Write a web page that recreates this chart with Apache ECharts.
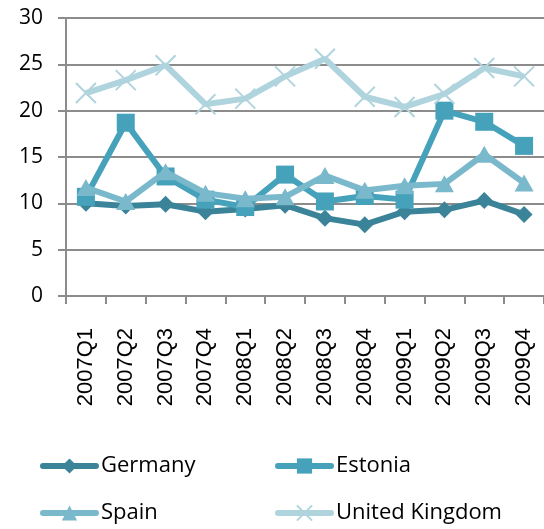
<!DOCTYPE html>
<html>
<head>
<meta charset="utf-8">
<script src="https://cdn.jsdelivr.net/npm/echarts@6/dist/echarts.min.js"></script>
<style>
html,body{margin:0;padding:0;background:#fff;}
#chart{width:544px;height:529px;}
</style>
</head>
<body>
<div id="chart"></div>
<script>
var categories = ['2007Q1','2007Q2','2007Q3','2007Q4','2008Q1','2008Q2','2008Q3','2008Q4','2009Q1','2009Q2','2009Q3','2009Q4'];
var germany = [10.0, 9.7, 9.9, 9.1, 9.4, 9.8, 8.4, 7.7, 9.1, 9.3, 10.3, 8.8];
var estonia = [10.7, 18.7, 12.9, 10.4, 9.6, 13.1, 10.2, 10.8, 10.4, 20.0, 18.8, 16.2];
var spain = [11.7, 10.2, 13.4, 11.1, 10.5, 10.7, 13.0, 11.4, 11.9, 12.1, 15.3, 12.2];
var uk = [21.9, 23.3, 24.9, 20.7, 21.3, 23.7, 25.6, 21.5, 20.4, 21.8, 24.6, 23.7];
var yTicks = [0, 5, 10, 15, 20, 25, 30];

var cGer = '#3A8399', cEst = '#46A2BA', cSpa = '#7AB8CC', cUk = '#B0D4DE';
var crossPath = 'path://M0,0L10,10M10,0L0,10';

var chart = echarts.init(document.getElementById('chart'), null, {renderer:'canvas'});
var legendText = {fontFamily:'Open Sans', fontSize:22, color:'#000', lineHeight:24};
function mkLegend(name, left, top){
  return {left:left, top:top, padding:0, orient:'horizontal', itemWidth:53, itemHeight:19,
    textStyle:legendText, lineStyle:{width:6, cap:'round'}, data:[name]};
}
chart.setOption({
  animation:false,
  backgroundColor:'#fff',
  grid:{left:66, right:-3.5, top:18, bottom:233, containLabel:false},
  legend:[
    mkLegend('Germany', 40, 454),
    mkLegend('Spain', 40, 501),
    mkLegend('Estonia', 275, 454),
    mkLegend('United Kingdom', 275, 501)
  ],
  xAxis:{
    type:'category', data:categories, boundaryGap:true,
    axisLine:{lineStyle:{color:'#8C8C8C', width:2}},
    axisTick:{show:true, length:8, alignWithLabel:false, lineStyle:{color:'#8C8C8C', width:2}},
    axisLabel:{rotate:90, margin:32, fontFamily:'Liberation Sans', fontSize:22, color:'#000', interval:0}
  },
  yAxis:{
    type:'value', min:yTicks[0], max:yTicks[yTicks.length-1], interval:5,
    axisLine:{show:true, lineStyle:{color:'#8C8C8C', width:2}},
    axisTick:{show:true, length:8, lineStyle:{color:'#8C8C8C', width:2}},
    splitLine:{show:true, lineStyle:{color:'#8C8C8C', width:2}},
    axisLabel:{margin:23, fontFamily:'Open Sans', fontSize:21, color:'#000'}
  },
  series:[
    {name:'Germany', type:'line', data:germany, symbol:'diamond', symbolSize:17,
     lineStyle:{color:cGer, width:6}, itemStyle:{color:cGer}, z:2},
    {name:'Estonia', type:'line', data:estonia, symbol:'rect', symbolSize:18,
     lineStyle:{color:cEst, width:6}, itemStyle:{color:cEst}, z:3},
    {name:'Spain', type:'line', data:spain, symbol:'triangle', symbolSize:[19,17],
     lineStyle:{color:cSpa, width:6}, itemStyle:{color:cSpa}, z:4},
    {name:'United Kingdom', type:'line', data:uk, symbol:crossPath, symbolSize:20,
     lineStyle:{color:cUk, width:6}, itemStyle:{color:cUk, borderColor:cUk, borderWidth:2}, z:5}
  ]
});
</script>
</body>
</html>
